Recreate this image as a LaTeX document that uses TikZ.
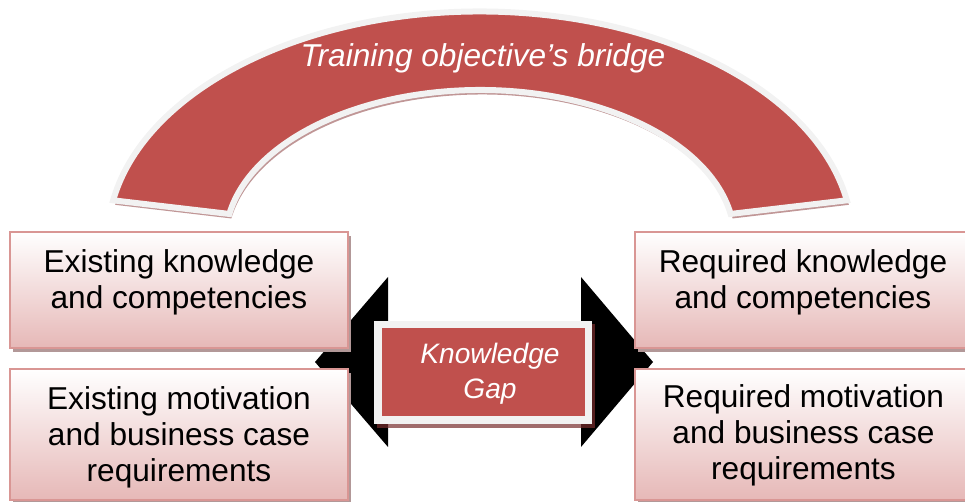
\documentclass[tikz,border=0pt]{standalone}
\usepackage{fontspec}
\setmainfont{Liberation Sans}

\definecolor{bridgered}{RGB}{192,80,77}
\definecolor{rimgray}{RGB}{242,242,242}
\definecolor{boxpink}{RGB}{230,184,183}
\definecolor{boxedge}{RGB}{217,150,148}
\definecolor{boxshade}{RGB}{178,152,152}
\definecolor{arcshade}{RGB}{192,150,150}
\definecolor{gapshade}{RGB}{120,45,45}

\tikzset{
  infobox/.style={draw=boxedge, line width=0.04cm, top color=white, bottom color=boxpink},
  boxshadow/.style={fill=boxshade, draw=none},
  boxtext/.style={font=\fontsize{18}{20.5}\selectfont, text=black, align=center, anchor=center},
  redtext/.style={font=\fontsize{18}{20}\selectfont\itshape, text=white, align=center},
}

\begin{document}
\begin{tikzpicture}
\useasboundingbox (0,0) rectangle (19.3,10.04);

% bridge
\begin{scope}[shift={(9.64,5.15)}]
\fill[arcshade] (170:7.45 and 4.57) arc[start angle=170, end angle=10, x radius=7.45, y radius=4.57] -- (10:5.09 and 3.0) arc[start angle=10, end angle=170, x radius=5.09, y radius=3.0] -- cycle;
\end{scope}
\begin{scope}[shift={(9.6,5.24)}]
\draw[fill=bridgered, draw=rimgray, line width=0.12cm] (170:7.45 and 4.57) arc[start angle=170, end angle=10, x radius=7.45, y radius=4.57] -- (10:5.09 and 3.0) arc[start angle=10, end angle=170, x radius=5.09, y radius=3.0] -- cycle;
\end{scope}
\node[redtext, anchor=base] (bridgetitle) at (9.66, 8.7) {Training objective’s bridge};

% double arrow
\fill[black] (6.3,2.8) -- (7.76,4.5) -- (7.76,3.4) -- (11.62,3.4) -- (11.62,4.5) -- (13.06,2.8) -- (11.62,1.1) -- (11.62,2.2) -- (7.76,2.2) -- (7.76,1.1) -- cycle;

% left boxes
\fill[boxshadow] (0.26,3.0) rectangle (7.02,5.32);
\draw[infobox] (0.2,3.08) rectangle (6.96,5.4);
\node[boxtext] (exknow) at (3.58,4.4) {Existing knowledge\\and competencies};
\fill[boxshadow] (0.26,-0.04) rectangle (7.02,2.58);
\draw[infobox] (0.2,0.04) rectangle (6.96,2.66);
\node[boxtext] (exmotiv) at (3.58,1.3) {Existing motivation\\and business case\\requirements};

% right boxes
\fill[boxshadow] (12.76,3.0) rectangle (19.5,5.32);
\draw[infobox] (12.7,3.08) rectangle (19.45,5.4);
\node[boxtext] (reqknow) at (16.06,4.4) {Required knowledge\\and competencies};
\fill[boxshadow] (12.76,-0.04) rectangle (19.5,2.58);
\draw[infobox] (12.7,0.04) rectangle (19.45,2.66);
\node[boxtext] (reqmotiv) at (16.07,1.33) {Required motivation\\and business case\\requirements};

% gap
\fill[gapshade, opacity=0.7] (7.54,1.48) rectangle (11.9,3.56);
\draw[fill=bridgered, draw=rimgray, line width=0.15cm] (7.555,1.635) rectangle (11.765,3.545);
\node[redtext, font=\fontsize{16}{20}\selectfont\itshape] (gaptext) at (9.8,2.56) {Knowledge\\Gap};

\end{tikzpicture}
\end{document}
